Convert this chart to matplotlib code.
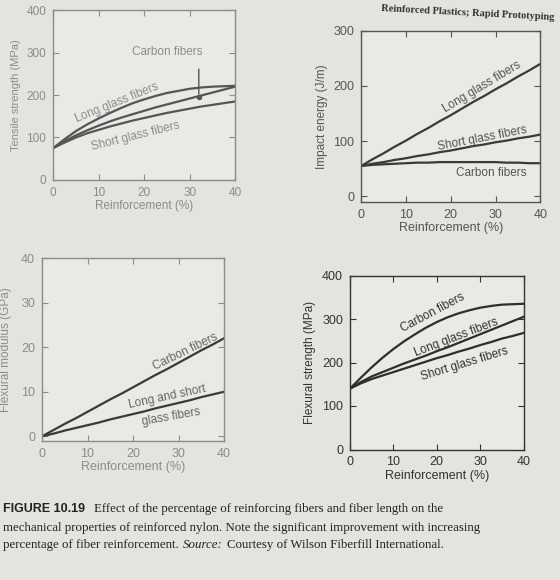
import numpy as np
import matplotlib.pyplot as plt

# reinforcement (%) sample points shared by all panels
reinf = [0, 2.5, 5, 7.5, 10, 12.5, 15, 17.5, 20, 22.5, 25, 27.5, 30, 32.5, 35, 37.5, 40]

# tensile strength (MPa)
ts_long_glass = [75, 96, 115, 131, 145, 158, 170, 181, 190, 198, 205, 210, 215, 218, 220, 221, 222]
ts_carbon = [75, 91, 105, 117, 128, 138, 147, 155, 163, 171, 178, 185, 192, 199, 206, 213, 220]
ts_short_glass = [75, 88, 100, 110, 118, 126, 133, 140, 146, 152, 158, 163, 168, 173, 177, 181, 185]

# impact energy (J/m)
ie_long_glass = [55, 67, 78, 90, 101, 113, 124, 136, 147, 159, 171, 182, 194, 205, 217, 228, 240]
ie_short_glass = [55, 59, 62, 66, 69, 73, 76, 80, 83, 87, 91, 94, 98, 101, 105, 108, 112]
ie_carbon = [55, 57, 58, 59, 60, 61, 61, 62, 62, 62, 62, 62, 62, 61, 61, 60, 60]

# flexural modulus (GPa)
fm_carbon = [0, 1.4, 2.8, 4.1, 5.5, 6.9, 8.3, 9.6, 11, 12.4, 13.8, 15.1, 16.5, 17.9, 19.3, 20.6, 22]
fm_glass = [0, 0.6, 1.3, 1.9, 2.5, 3.1, 3.8, 4.4, 5, 5.6, 6.3, 6.9, 7.5, 8.1, 8.8, 9.4, 10]

# flexural strength (MPa)
fs_carbon = [140, 165, 189, 211, 231, 249, 265, 280, 293, 304, 313, 320, 326, 330, 333, 334, 335]
fs_long_glass = [140, 155, 168, 178, 188, 198, 207, 216, 226, 235, 245, 255, 265, 275, 285, 295, 305]
fs_short_glass = [140, 152, 162, 170, 178, 186, 194, 202, 210, 217, 225, 232, 240, 247, 255, 261, 268]

bg = '#e5e3df'
sans = 'Liberation Sans'
serif = 'Liberation Serif'

fig = plt.figure(figsize=(5.6, 5.8), dpi=100, facecolor=bg)


def setup(ax, ylim, yticks, ylabel, tc, fs=9):
    ax.set_facecolor('#ebe9e6')
    ax.set_xlim(0, 40)
    ax.set_ylim(*ylim)
    ax.set_xticks([0, 10, 20, 30, 40])
    ax.set_yticks(yticks)
    ax.tick_params(direction='in', top=True, right=True, labelsize=fs,
                   colors=tc, length=4, pad=5)
    for lab in ax.get_xticklabels() + ax.get_yticklabels():
        lab.set_family(sans)
    for s in ax.spines.values():
        s.set_color(tc)
        s.set_linewidth(1.0)
    ax.set_xlabel('Reinforcement (%)', fontsize=fs, color=tc, family=sans, labelpad=1)
    ax.set_ylabel(ylabel, fontsize=fs - 0.5, color=tc, family=sans)


# tensile strength
ax1 = fig.add_axes([0.095, 0.69, 0.325, 0.292])
tc = '#8c8c8c'
setup(ax1, (0, 400), [0, 100, 200, 300, 400], 'Tensile strength (MPa)', tc, fs=8.5)
lc = '#555555'
ax1.plot(reinf, ts_long_glass, color=lc, lw=1.6)
ax1.plot(reinf, ts_carbon, color=lc, lw=1.6)
ax1.plot(reinf, ts_short_glass, color=lc, lw=1.6)
ax1.text(25, 295, 'Carbon fibers', fontsize=8.5, color=tc, family=sans, ha='center')
ax1.annotate('', xy=(32, 196), xytext=(32, 268),
             arrowprops=dict(arrowstyle='-', color=lc, lw=1.0))
ax1.plot([32], [196], 'o', color=lc, ms=3)
ax1.text(14, 183, 'Long glass fibers', fontsize=8.5, color=tc, family=sans,
         rotation=22, ha='center', va='center')
ax1.text(18, 104, 'Short glass fibers', fontsize=8.5, color=tc, family=sans,
         rotation=14, ha='center', va='center')

# impact energy
ax2 = fig.add_axes([0.645, 0.652, 0.32, 0.295])
tc = '#555555'
setup(ax2, (-10, 300), [0, 100, 200, 300], 'Impact energy (J/m)', tc)
lc = '#3a3a3a'
ax2.plot(reinf, ie_long_glass, color=lc, lw=1.6)
ax2.plot(reinf, ie_short_glass, color=lc, lw=1.6)
ax2.plot(reinf, ie_carbon, color=lc, lw=1.6)
ax2.text(27, 198, 'Long glass fibers', fontsize=8.5, color=tc, family=sans,
         rotation=31, ha='center', va='center')
ax2.text(27, 104, 'Short glass fibers', fontsize=8.5, color=tc, family=sans,
         rotation=11, ha='center', va='center')
ax2.text(29, 42, 'Carbon fibers', fontsize=8.5, color=tc, family=sans,
         ha='center', va='center')

# flexural modulus
ax3 = fig.add_axes([0.075, 0.24, 0.325, 0.315])
tc = '#8c8c8c'
setup(ax3, (-1, 40), [0, 10, 20, 30, 40], 'Flexural modulus (GPa)', tc)
ax3.yaxis.set_label_coords(-0.165, 0.5)
lc = '#3a3a3a'
ax3.plot(reinf, fm_carbon, color=lc, lw=1.6)
ax3.plot(reinf, fm_glass, color=lc, lw=1.6)
ax3.text(31.5, 19, 'Carbon fibers', fontsize=8.5, color='#666666', family=sans,
         rotation=26, ha='center', va='center')
ax3.text(27.5, 8.8, 'Long and short', fontsize=8.5, color='#666666', family=sans,
         rotation=12, ha='center', va='center')
ax3.text(28.3, 4.4, 'glass fibers', fontsize=8.5, color='#666666', family=sans,
         rotation=10, ha='center', va='center')

# flexural strength
ax4 = fig.add_axes([0.625, 0.225, 0.31, 0.30])
tc = '#333333'
setup(ax4, (0, 400), [0, 100, 200, 300, 400], 'Flexural strength (MPa)', tc)
lc = '#2e2e2e'
ax4.plot(reinf, fs_carbon, color=lc, lw=1.6)
ax4.plot(reinf, fs_long_glass, color=lc, lw=1.6)
ax4.plot(reinf, fs_short_glass, color=lc, lw=1.6)
ax4.text(19, 314, 'Carbon fibers', fontsize=8.5, color=tc, family=sans,
         rotation=28, ha='center', va='center')
ax4.text(24.6, 257, 'Long glass fibers', fontsize=8.5, color=tc, family=sans,
         rotation=21, ha='center', va='center')
ax4.text(26.4, 196, 'Short glass fibers', fontsize=8.5, color=tc, family=sans,
         rotation=17, ha='center', va='center')

# page header and caption
fig.text(0.99, 0.993, 'Reinforced Plastics; Rapid Prototyping', fontsize=7.5,
         family=serif, weight='bold', color='#333333',
         ha='right', va='top', rotation=-3)
t0 = fig.text(0.006, 0.118, 'FIGURE 10.19', fontsize=9, family=sans, weight='bold',
              color='#222222', va='baseline')
ax4.annotate('Effect of the percentage of reinforcing fibers and fiber length on the',
             xy=(1, 0), xycoords=t0, xytext=(6, 0), textcoords='offset points',
             fontsize=9.3, family=serif, color='#222222', va='bottom')
fig.text(0.006, 0.084, 'mechanical properties of reinforced nylon. Note the significant improvement with increasing',
         fontsize=9.3, family=serif, color='#222222', va='baseline')
t1 = fig.text(0.006, 0.056, 'percentage of fiber reinforcement.', fontsize=9.3, family=serif,
              color='#222222', va='baseline')
t2 = ax4.annotate('Source:', xy=(1, 0), xycoords=t1, xytext=(3, 0),
                  textcoords='offset points', fontsize=9.3, family=serif,
                  style='italic', color='#222222', va='bottom')
ax4.annotate('Courtesy of Wilson Fiberfill International.', xy=(1, 0), xycoords=t2,
             xytext=(3, 0), textcoords='offset points', fontsize=9.3, family=serif,
             color='#222222', va='bottom')

fig.savefig('out.png', dpi=100, facecolor=bg)
